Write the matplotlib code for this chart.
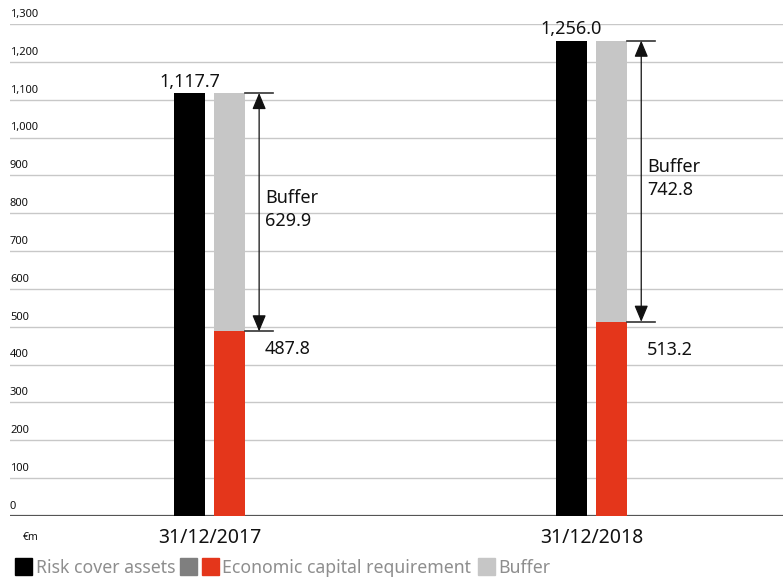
import matplotlib
matplotlib.use("Agg")
import matplotlib.pyplot as plt
from matplotlib.patches import Rectangle
from matplotlib.transforms import blended_transform_factory

# Data (EUR m)
categories = ["31/12/2017", "31/12/2018"]
risk_cover_assets = [1117.7, 1256.0]
economic_capital = [487.8, 513.2]
buffer = [629.9, 742.8]
tick_values = [0, 100, 200, 300, 400, 500, 600, 700, 800, 900, 1000, 1100, 1200, 1300]

BLACK = "#000000"
RED = "#E4361B"
LIGHT = "#C6C6C6"
MID = "#7F7F7F"
LEGEND_TEXT = "#8E8E8E"

plt.rcParams["font.family"] = ["Noto Sans", "DejaVu Sans"]

W, H = 783, 581
fig = plt.figure(figsize=(W / 100, H / 100), dpi=100)
ax_left, ax_right = 10 / W, 1.0
ax_bottom, ax_top = 1 - 516 / H, 1 - 24 / H
ax = fig.add_axes([ax_left, ax_bottom, ax_right - ax_left, ax_top - ax_bottom])

ax.set_ylim(0, 1300)
ax.set_xlim(-0.522, 1.501)
for s in ax.spines.values():
    s.set_visible(False)
ax.set_xticks([])
ax.set_yticks([])

# horizontal grid with labels sitting on top of each line
ty = blended_transform_factory(ax.transAxes, ax.transData)
for v in tick_values:
    if v == 0:
        ax.axhline(v, color="#555555", lw=1.6, zorder=1)
    else:
        ax.axhline(v, color="#C8C8C8", lw=1.0, zorder=0)
    ax.annotate(f"{v:,}", xy=(0, v), xycoords=ty, xytext=(0, 3),
                textcoords="offset points", ha="left", va="bottom",
                fontsize=8, color="#111111")

bw = 0.081
off = 0.0524
xs = list(range(len(categories)))
xb = [x - off for x in xs]
xg = [x + off for x in xs]

ax.bar(xb, risk_cover_assets, width=bw, color=BLACK, zorder=2)
ax.bar(xg, economic_capital, width=bw, color=RED, zorder=2)
ax.bar(xg, buffer, width=bw, bottom=economic_capital, color=LIGHT, zorder=2)

# gap (points) between the lower cap line and the requirement label
req_label_gap = [6, 14]

for i, x in enumerate(xs):
    top = economic_capital[i] + buffer[i]
    ax.text(xb[i], risk_cover_assets[i] + 6, f"{risk_cover_assets[i]:,.1f}",
            ha="center", va="bottom", fontsize=13, color="#111111")
    # cap lines at the top and bottom of the buffer
    for yv in (top, economic_capital[i]):
        ax.plot([x + 0.093, x + 0.166], [yv, yv], color="#333333", lw=1.2, zorder=3)
    ax.annotate("", xy=(x + 0.13, top), xytext=(x + 0.13, economic_capital[i]),
                arrowprops=dict(arrowstyle="<|-|>,head_length=1.0,head_width=0.42",
                                mutation_scale=10, color="#111111", lw=0.9,
                                shrinkA=0, shrinkB=0), zorder=3)
    ax.text(x + 0.145, (top + economic_capital[i]) / 2 + 8, f"Buffer\n{buffer[i]:.1f}",
            ha="left", va="center", fontsize=13, color="#111111", linespacing=1.35)
    ax.annotate(f"{economic_capital[i]:.1f}", xy=(x + 0.145, economic_capital[i]),
                xytext=(0, -req_label_gap[i]), textcoords="offset points",
                ha="left", va="top", fontsize=13, color="#111111")

# category labels under the baseline
tx = blended_transform_factory(ax.transData, ax.transAxes)
for x, c in zip(xs, categories):
    ax.text(x, -0.025, c, transform=tx, ha="center", va="top", fontsize=14, color="#111111")

fig.text(23 / W, 1 - 537 / H, "€m", ha="left", va="center", fontsize=7.5, color="#111111")

# legend row
def square(px, color):
    fig.patches.append(Rectangle((px / W, 1 - 575 / H), 17 / W, 17 / H,
                                 transform=fig.transFigure, color=color))

def label(px, s):
    fig.text(px / W, 1 - 568 / H, s, ha="left", va="center", fontsize=12.7, color=LEGEND_TEXT)

square(15, BLACK)
label(36, "Risk cover assets")
square(180, MID)
square(202, RED)
label(222, "Economic capital requirement")
square(478, LIGHT)
label(498, "Buffer")

fig.savefig("out.png", dpi=100)
